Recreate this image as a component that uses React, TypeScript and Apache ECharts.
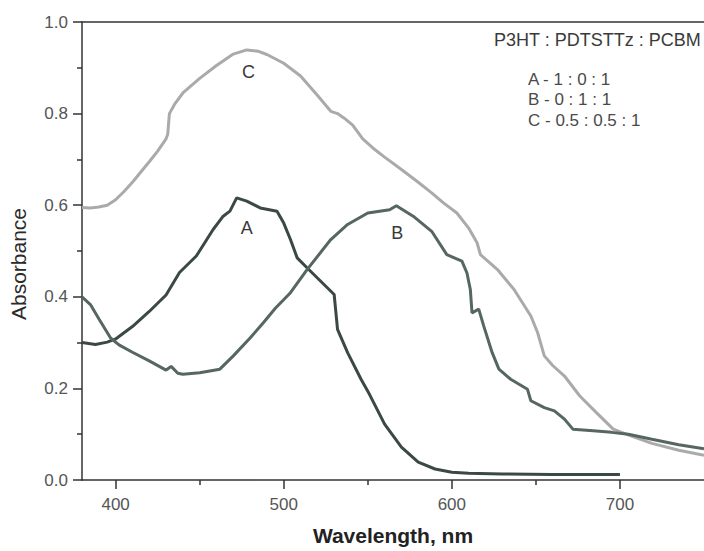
import React, { useEffect, useRef } from "react";
import * as echarts from "echarts";

// Curve A: P3HT:PCBM 1:0:1
const aWavelength = [380, 388, 395, 400, 410, 420, 430, 438, 448, 458, 464, 468, 472, 478, 486, 496, 500, 504, 508, 514, 522, 530, 532, 538, 546, 551, 560, 570, 580, 590, 600, 610, 630, 660, 700];
const aAbsorbance = [0.300, 0.296, 0.301, 0.308, 0.335, 0.368, 0.404, 0.453, 0.489, 0.547, 0.576, 0.587, 0.616, 0.609, 0.594, 0.587, 0.561, 0.525, 0.485, 0.463, 0.434, 0.405, 0.329, 0.278, 0.220, 0.187, 0.122, 0.072, 0.039, 0.024, 0.017, 0.015, 0.013, 0.012, 0.012];

// Curve B: 0:1:1
const bWavelength = [380, 385, 390, 397, 402, 410, 420, 430, 433, 437, 440, 450, 462, 470, 480, 488, 495, 504, 514, 528, 538, 550, 563, 567, 577, 588, 597, 606, 609, 611, 612, 616, 619, 624, 628, 635, 645, 647, 655, 661, 667, 672, 686, 695, 705, 719, 735, 750];
const bAbsorbance = [0.400, 0.383, 0.352, 0.310, 0.295, 0.279, 0.260, 0.240, 0.248, 0.233, 0.231, 0.234, 0.242, 0.271, 0.310, 0.344, 0.375, 0.409, 0.460, 0.525, 0.558, 0.583, 0.590, 0.599, 0.576, 0.543, 0.492, 0.478, 0.452, 0.416, 0.365, 0.373, 0.336, 0.278, 0.242, 0.220, 0.198, 0.173, 0.158, 0.151, 0.133, 0.111, 0.107, 0.104, 0.100, 0.089, 0.077, 0.068];

// Curve C: 0.5:0.5:1
const cWavelength = [380, 385, 390, 395, 400, 405, 410, 420, 425, 430, 431, 432, 435, 440, 450, 460, 470, 478, 485, 490, 500, 510, 520, 528, 532, 536, 541, 547, 553, 560, 570, 580, 588, 595, 603, 610, 615, 617, 627, 637, 647, 651, 655, 660, 667, 676, 686, 696, 706, 719, 735, 750];
const cAbsorbance = [0.595, 0.594, 0.596, 0.600, 0.612, 0.630, 0.650, 0.695, 0.718, 0.745, 0.755, 0.800, 0.820, 0.845, 0.877, 0.905, 0.930, 0.939, 0.936, 0.929, 0.910, 0.882, 0.840, 0.805, 0.800, 0.790, 0.775, 0.745, 0.725, 0.705, 0.678, 0.650, 0.627, 0.605, 0.583, 0.550, 0.518, 0.492, 0.460, 0.416, 0.358, 0.322, 0.271, 0.250, 0.227, 0.184, 0.147, 0.111, 0.097, 0.080, 0.065, 0.054];

const xMajorTicks = [400, 500, 600, 700];
const xMinorTicks = [450, 550, 650];
const legendTitle = "P3HT : PDTSTTz : PCBM";
const legendLines = ["A - 1 : 0 : 1", "B - 0 : 1 : 1", "C - 0.5 : 0.5 : 1"];
const curveLabels = ["A", "B", "C"];
const labelPositions: [number, number][] = [[478, 0.551], [567.5, 0.540], [479, 0.891]];

const FONT = "'Liberation Sans', Arial, Helvetica, sans-serif";

function pairs(xs: number[], ys: number[]) {
  return xs.map((x, i) => [x, ys[i]]);
}

export default function App() {
  const ref = useRef<HTMLDivElement>(null);
  useEffect(() => {
    if (!ref.current) return;
    const chart = echarts.init(ref.current, null, { renderer: "svg" });
    const axisColor = "#333";
    const labelColor = "#555";
    const colors = ["#3c4845", "#566661", "#aaaaaa"];
    const datas = [pairs(aWavelength, aAbsorbance), pairs(bWavelength, bAbsorbance), pairs(cWavelength, cAbsorbance)];
    const series = datas.map((d, i) => ({
      type: "line",
      data: d,
      xAxisIndex: 0,
      yAxisIndex: 0,
      showSymbol: false,
      smooth: false,
      lineStyle: { color: colors[i], width: 3 },
      z: i === 2 ? 2 : 3,
      markPoint: {
        symbol: "circle",
        symbolSize: 0,
        data: [{ coord: labelPositions[i], value: curveLabels[i] }],
        label: {
          show: true,
          position: "inside",
          formatter: curveLabels[i],
          color: "#3a3a3a",
          fontSize: 18,
          fontFamily: FONT,
        },
      },
    }));
    chart.setOption({
      animation: false,
      backgroundColor: "#fff",
      grid: { left: 82, top: 22, right: 0, bottom: 70, containLabel: false },
      xAxis: [
        {
          type: "value",
          min: 380,
          max: 750,
          position: "bottom",
          name: "Wavelength, nm",
          nameLocation: "middle",
          nameGap: 45,
          nameTextStyle: { fontSize: 21, fontWeight: "bold", color: "#222", fontFamily: FONT },
          axisLine: { show: true, lineStyle: { color: axisColor, width: 1.5 } },
          axisTick: { show: true, customValues: xMajorTicks, length: 9, lineStyle: { color: axisColor, width: 1.5 } },
          axisLabel: { show: true, customValues: xMajorTicks, color: labelColor, fontSize: 17, fontFamily: FONT, margin: 16 },
          splitLine: { show: false },
        },
        {
          type: "value",
          min: 380,
          max: 750,
          position: "bottom",
          axisLine: { show: false },
          axisTick: { show: true, customValues: xMinorTicks, length: 5, lineStyle: { color: axisColor, width: 1.5 } },
          axisLabel: { show: false },
          splitLine: { show: false },
        },
        {
          type: "value",
          min: 380,
          max: 750,
          position: "top",
          axisLine: { show: true, lineStyle: { color: axisColor, width: 1.5 } },
          axisTick: { show: false },
          axisLabel: { show: false },
          splitLine: { show: false },
        },
      ],
      yAxis: {
        type: "value",
        min: 0,
        max: 1,
        interval: 0.2,
        axisLine: { show: true, lineStyle: { color: axisColor, width: 1.5 } },
        axisTick: { show: true, length: 9, lineStyle: { color: axisColor, width: 1.5 } },
        minorTick: { show: true, splitNumber: 2, length: 5, lineStyle: { color: axisColor, width: 1.5 } },
        axisLabel: {
          color: labelColor,
          fontSize: 17,
          fontFamily: FONT,
          margin: 14,
          formatter: (v: number) => v.toFixed(1),
        },
        splitLine: { show: false },
      },
      graphic: [
        {
          type: "text",
          x: 18,
          y: 264,
          rotation: Math.PI / 2,
          style: {
            text: "Absorbance",
            fontSize: 21,
            fontFamily: FONT,
            fill: "#2a2a2a",
            align: "center",
            verticalAlign: "middle",
          },
        },
        {
          type: "text",
          x: 494,
          y: 40,
          style: { text: legendTitle, fontSize: 18, fontFamily: FONT, fill: "#3a3a3a", align: "left", verticalAlign: "middle" },
        },
        ...legendLines.map((t, i) => ({
          type: "text",
          x: 528,
          y: 79 + i * 20.5,
          style: { text: t, fontSize: 17, fontFamily: FONT, fill: "#4a4a4a", align: "left", verticalAlign: "middle" },
        })),
      ],
      series,
    });
    return () => chart.dispose();
  }, []);
  return <div ref={ref} style={{ position: "fixed", left: 0, top: 0, width: 704, height: 551 }} />;
}
